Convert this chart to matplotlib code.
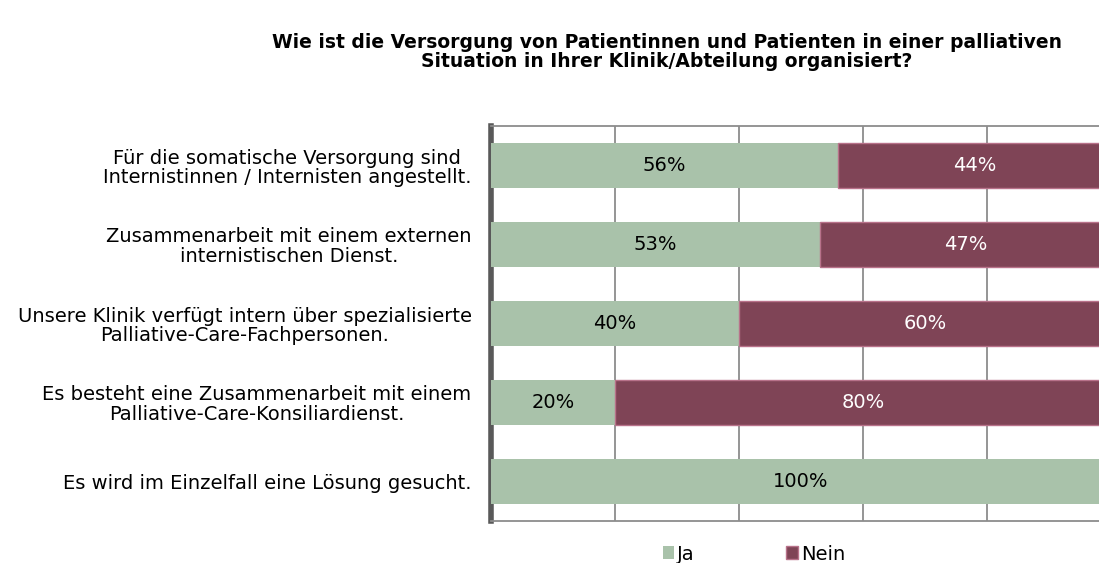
import matplotlib.pyplot as plt
import matplotlib.patches as mpatches

#Chart data
categories = [
    "Für die somatische Versorgung sind\nInternistinnen / Internisten angestellt.",
    "Zusammenarbeit mit einem externen\ninternistischen Dienst.",
    "Unsere Klinik verfügt intern über spezialisierte\nPalliative-Care-Fachpersonen.",
    "Es besteht eine Zusammenarbeit mit einem\nPalliative-Care-Konsiliardienst.",
    "Es wird im Einzelfall eine Lösung gesucht.",
]
ja = [56, 53, 40, 20, 100]
nein = [44, 47, 60, 80, 0]
series_names = ["Ja", "Nein"]
title = "Wie ist die Versorgung von Patientinnen und Patienten in einer palliativen\nSituation in Ihrer Klinik/Abteilung organisiert?"

plt.rcParams['font.family'] = ['DejaVu Sans']

ja_col = "#a9c2aa"
nein_col = "#7f4456"
nein_edge = "#b8728a"
fs = 14

W, H = 1099, 563
fig = plt.figure(figsize=(W/100, H/100), dpi=100)
# axes in pixel coords: x 491..1111 (clipped at right), y 126..521
ax = fig.add_axes([491/W, 1-521/H, 620/W, 395/H])

y = list(range(len(categories)))
ax.barh(y, ja, height=0.56, color=ja_col, zorder=3)
ax.barh(y, nein, left=ja, height=0.56, color=nein_col, edgecolor=nein_edge, linewidth=1, zorder=3)

for i in y:
    if ja[i] > 0:
        ax.text(ja[i]/2, i, "%d%%" % ja[i], ha="center", va="center", fontsize=fs, color="#000000", zorder=4)
    if nein[i] > 0:
        ax.text(ja[i] + nein[i]/2, i, "%d%%" % nein[i], ha="center", va="center", fontsize=fs, color="white", zorder=4)

ax.set_xlim(0, 100)
ax.set_ylim(len(categories)-0.5, -0.5)
ax.set_xticks([20, 40, 60, 80])
ax.xaxis.grid(True, color="#8c8c8c", linewidth=1.3, zorder=0)
ax.tick_params(axis="x", length=0, labelbottom=False)
ax.tick_params(axis="y", length=0, pad=14)
ax.set_yticks(y)
ax.set_yticklabels(categories, fontsize=fs, ha="right", multialignment="center", linespacing=1.05)

ax.spines["left"].set_linewidth(4)
ax.spines["left"].set_color("#595959")
ax.spines["top"].set_color("#8c8c8c")
ax.spines["top"].set_linewidth(1.3)
ax.spines["bottom"].set_color("#8c8c8c")
ax.spines["bottom"].set_linewidth(1.3)
ax.spines["right"].set_visible(False)

fig.text(667/W, 1-52/H, title, ha="center", va="center", fontsize=13.5, fontweight="bold",
         multialignment="center", linespacing=0.95)

handles = [mpatches.Patch(facecolor=ja_col, label=series_names[0]),
           mpatches.Patch(facecolor=nein_col, edgecolor=nein_edge, label=series_names[1])]
fig.legend(handles=handles, loc="center", bbox_to_anchor=(754/W, 1-554/H), ncol=2, frameon=False,
           fontsize=fs, handlelength=0.6, handleheight=0.6, handletextpad=0.15, columnspacing=4.7,
           borderpad=0, borderaxespad=0)

fig.savefig("out.png", dpi=100)
